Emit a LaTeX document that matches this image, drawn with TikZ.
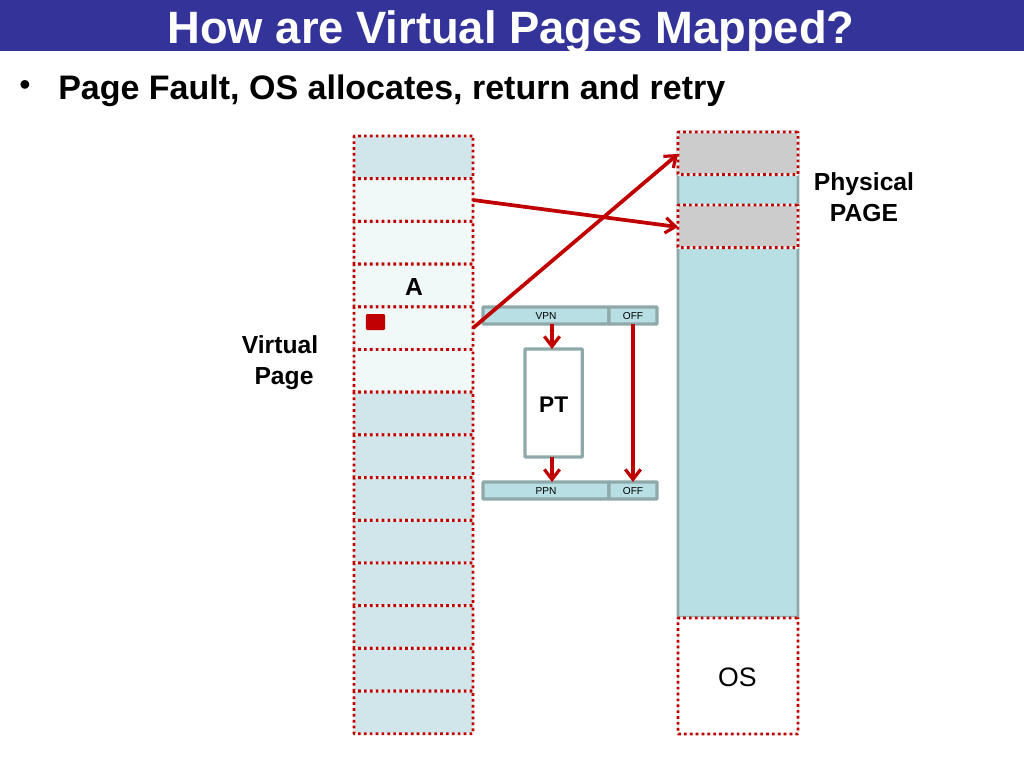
\documentclass[tikz,border=0pt]{standalone}
\usepackage{fontspec}
\setmainfont{Liberation Sans}
\usetikzlibrary{arrows.meta}
\definecolor{titleblue}{HTML}{333399}
\definecolor{pagedark}{HTML}{D0E6EA}
\definecolor{pagelight}{HTML}{F0F8F8}
\definecolor{teal}{HTML}{B8DFE3}
\definecolor{edge}{HTML}{8FA9AB}
\definecolor{redd}{HTML}{C00000}
\definecolor{graypage}{HTML}{CCCCCC}
\newcommand{\fs}[1]{\fontsize{#1}{#1}\selectfont}
\tikzset{
 >={Straight Barb[length=7.5pt,width=11.5pt,line width=2.4pt]},
 cell/.style={draw=edge,line width=2.2pt,inner sep=0pt,outer sep=0pt,anchor=north west,rounded corners=0.5pt},
 dotbox/.style={cell,draw=edge!20,line width=1.8pt,postaction={draw=redd,line width=2.2pt,dash pattern=on 2pt off 2.4pt}},
 vpage/.style={dotbox,minimum width=89.25pt,minimum height=32pt,fill=pagedark},
 vlight/.style={fill=pagelight},
 ppage/.style={dotbox,minimum width=90pt,fill=graypage},
 field/.style={cell,line width=2.5pt,fill=teal,minimum height=12.75pt,font=\fs{7.6},text depth=0pt,text height=6pt},
 link/.style={->,draw=redd,line width=2.8pt},
 label/.style={font=\bfseries\fs{18.5},align=center,inner sep=0pt},
}
\begin{document}
\begin{tikzpicture}[x=0.75pt,y=-0.75pt]
\useasboundingbox (0,0) rectangle (1024,768);
\node[inner sep=0pt,outer sep=0pt,anchor=north west,fill=titleblue,minimum width=768pt,minimum height=38.25pt] (band) at (0,0) {};
\node[text=white,font=\bfseries\fs{34},inner sep=0pt,anchor=base] (title) at (511,43) {How are Virtual Pages Mapped?};
\node[font=\fs{24},inner sep=0pt] (bullet) at (25,88) {•};
\node[font=\bfseries\fs{25.5},inner sep=0pt,anchor=base west] (head) at (58,99) {Page Fault, OS allocates, return and retry};
% virtual pages
\node[vpage] (v1) at (354,136) {};
\node[vpage,vlight] (v2) at (354,178.7) {};
\node[vpage,vlight] (v3) at (354,221.4) {};
\node[vpage,vlight] (v4) at (354,264.1) {};
\node[vpage,vlight] (v5) at (354,306.8) {};
\node[vpage,vlight] (v6) at (354,349.5) {};
\node[vpage] (v7) at (354,392.2) {};
\node[vpage] (v8) at (354,434.9) {};
\node[vpage] (v9) at (354,477.6) {};
\node[vpage] (v10) at (354,520.3) {};
\node[vpage] (v11) at (354,563) {};
\node[vpage] (v12) at (354,605.7) {};
\node[vpage] (v13) at (354,648.4) {};
\node[vpage] (v14) at (354,691.1) {};
\node[label] (A) at (414,287) {A};
\node[fill=redd,rounded corners=1pt,minimum width=14.5pt,minimum height=12pt,inner sep=0pt] (blk) at (375.5,322) {};
\node[label,anchor=north] (vlab) at (280,335) {Virtual\\[5pt] \hspace*{6pt}Page};
% physical memory
\node[cell,fill=teal,minimum width=90pt,minimum height=364pt] (phys) at (678,132) {};
\node[ppage,minimum height=32pt] (p1) at (678,132) {};
\node[ppage,minimum height=32pt] (p2) at (678,205) {};
\node[dotbox,fill=white,minimum width=90pt,minimum height=87pt] (os) at (678,618) {};
\node[font=\fs{20},inner sep=0pt] (oslab) at (737.5,677) {OS};
\node[label] (plab) at (864,197) {Physical\\[5pt] PAGE};
% translation
\node[field,minimum width=94.5pt] (vpn) at (483,307) {VPN};
\node[field,minimum width=36pt] (off1) at (609,307) {OFF};
\node[cell,line width=2.4pt,fill=white,minimum width=43pt,minimum height=81pt,font=\bfseries\fs{17},text height=14pt,text depth=0pt] (pt) at (525,349) {PT};
\node[field,minimum width=94.5pt] (ppn) at (483,482) {PPN};
\node[field,minimum width=36pt] (off2) at (609,482) {OFF};
% connectors
\coordinate (a1) at (552,324); \coordinate (a2) at (552,349);
\coordinate (b1) at (552,457); \coordinate (b2) at (552,482);
\draw[link] (v2.east |- 0,200) -- (p2.west |- 0,227);
\draw[link] (v5.east |- 0,328) -- (p1.west |- 0,154);
\draw[link] (a1) -- (a2);
\draw[link] (b1) -- (b2);
\draw[link] (off1.south -| 633,0) -- (off2.north -| 633,0);
\end{tikzpicture}
\end{document}
